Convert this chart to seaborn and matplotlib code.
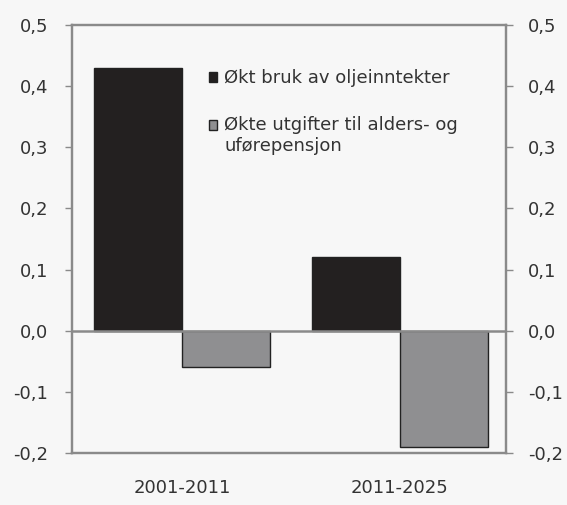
import matplotlib
matplotlib.use("Agg")
import matplotlib.pyplot as plt
import pandas as pd
import seaborn as sns

perioder = ["2001-2011", "2011-2025"]
serier = ["Økt bruk av oljeinntekter", "Økte utgifter til alders- og\nuførepensjon"]
olje = [0.43, 0.12]
pensjon = [-0.06, -0.19]
farger = ["#231f20", "#8f8f91"]
y_ticks = [-0.2, -0.1, 0.0, 0.1, 0.2, 0.3, 0.4, 0.5]
y_labels = ["-0,2", "-0,1", "0,0", "0,1", "0,2", "0,3", "0,4", "0,5"]

df = pd.DataFrame({
    "periode": perioder * 2,
    "serie": [serier[0]] * 2 + [serier[1]] * 2,
    "verdi": olje + pensjon,
})

sns.set_style("white")
plt.rcParams["font.family"] = ["DejaVu Sans"]

bg = "#f7f7f7"
spine = "#8a8a8a"
tekst = "#333333"
fs = 13

fig = plt.figure(figsize=(5.67, 5.05), dpi=100, facecolor=bg)
ax = fig.add_axes([0.127, 0.103, 0.765, 0.8475])
ax.set_facecolor(bg)

sns.barplot(data=df, x="periode", y="verdi", hue="serie", palette=farger,
            width=0.81, edgecolor="#222222", linewidth=1.0, ax=ax)

ax.set_xlim(-0.505, 1.486)
ax.set_ylim(-0.2, 0.5)
ax.axhline(0, color=spine, lw=1.8, zorder=3)
ax.set_yticks(y_ticks)
ax.set_yticklabels(y_labels)
ax.set_xlabel("")
ax.set_ylabel("")
ax.tick_params(axis="y", length=5, width=1, color=spine, labelsize=fs,
               labelcolor=tekst, pad=12)
ax.tick_params(axis="x", length=0, labelsize=fs, labelcolor=tekst, pad=19)
for s in ax.spines.values():
    s.set_color(spine)
    s.set_linewidth(1.6)

ax2 = ax.twinx()
ax2.set_ylim(ax.get_ylim())
ax2.set_yticks(y_ticks)
ax2.set_yticklabels(y_labels)
ax2.tick_params(axis="y", length=5, width=1, color=spine, labelsize=fs,
                labelcolor=tekst, pad=11)
for s in ax2.spines.values():
    s.set_color(spine)
    s.set_linewidth(1.6)

handles, labels = ax.get_legend_handles_labels()
leg = ax.legend(handles, labels, loc="upper left", bbox_to_anchor=(0.316, 0.897),
                frameon=False, fontsize=fs, handlelength=0.45, handleheight=0.45,
                handletextpad=0.4, labelspacing=1.6, borderpad=0,
                borderaxespad=0, labelcolor=tekst)
# flytt markøren til første linje i teksten som går over to linjer
h = leg.legend_handles[1]
h.set_y(h.get_y() + 0.6 * fs)

fig.savefig("out.png", dpi=100, facecolor=bg)
